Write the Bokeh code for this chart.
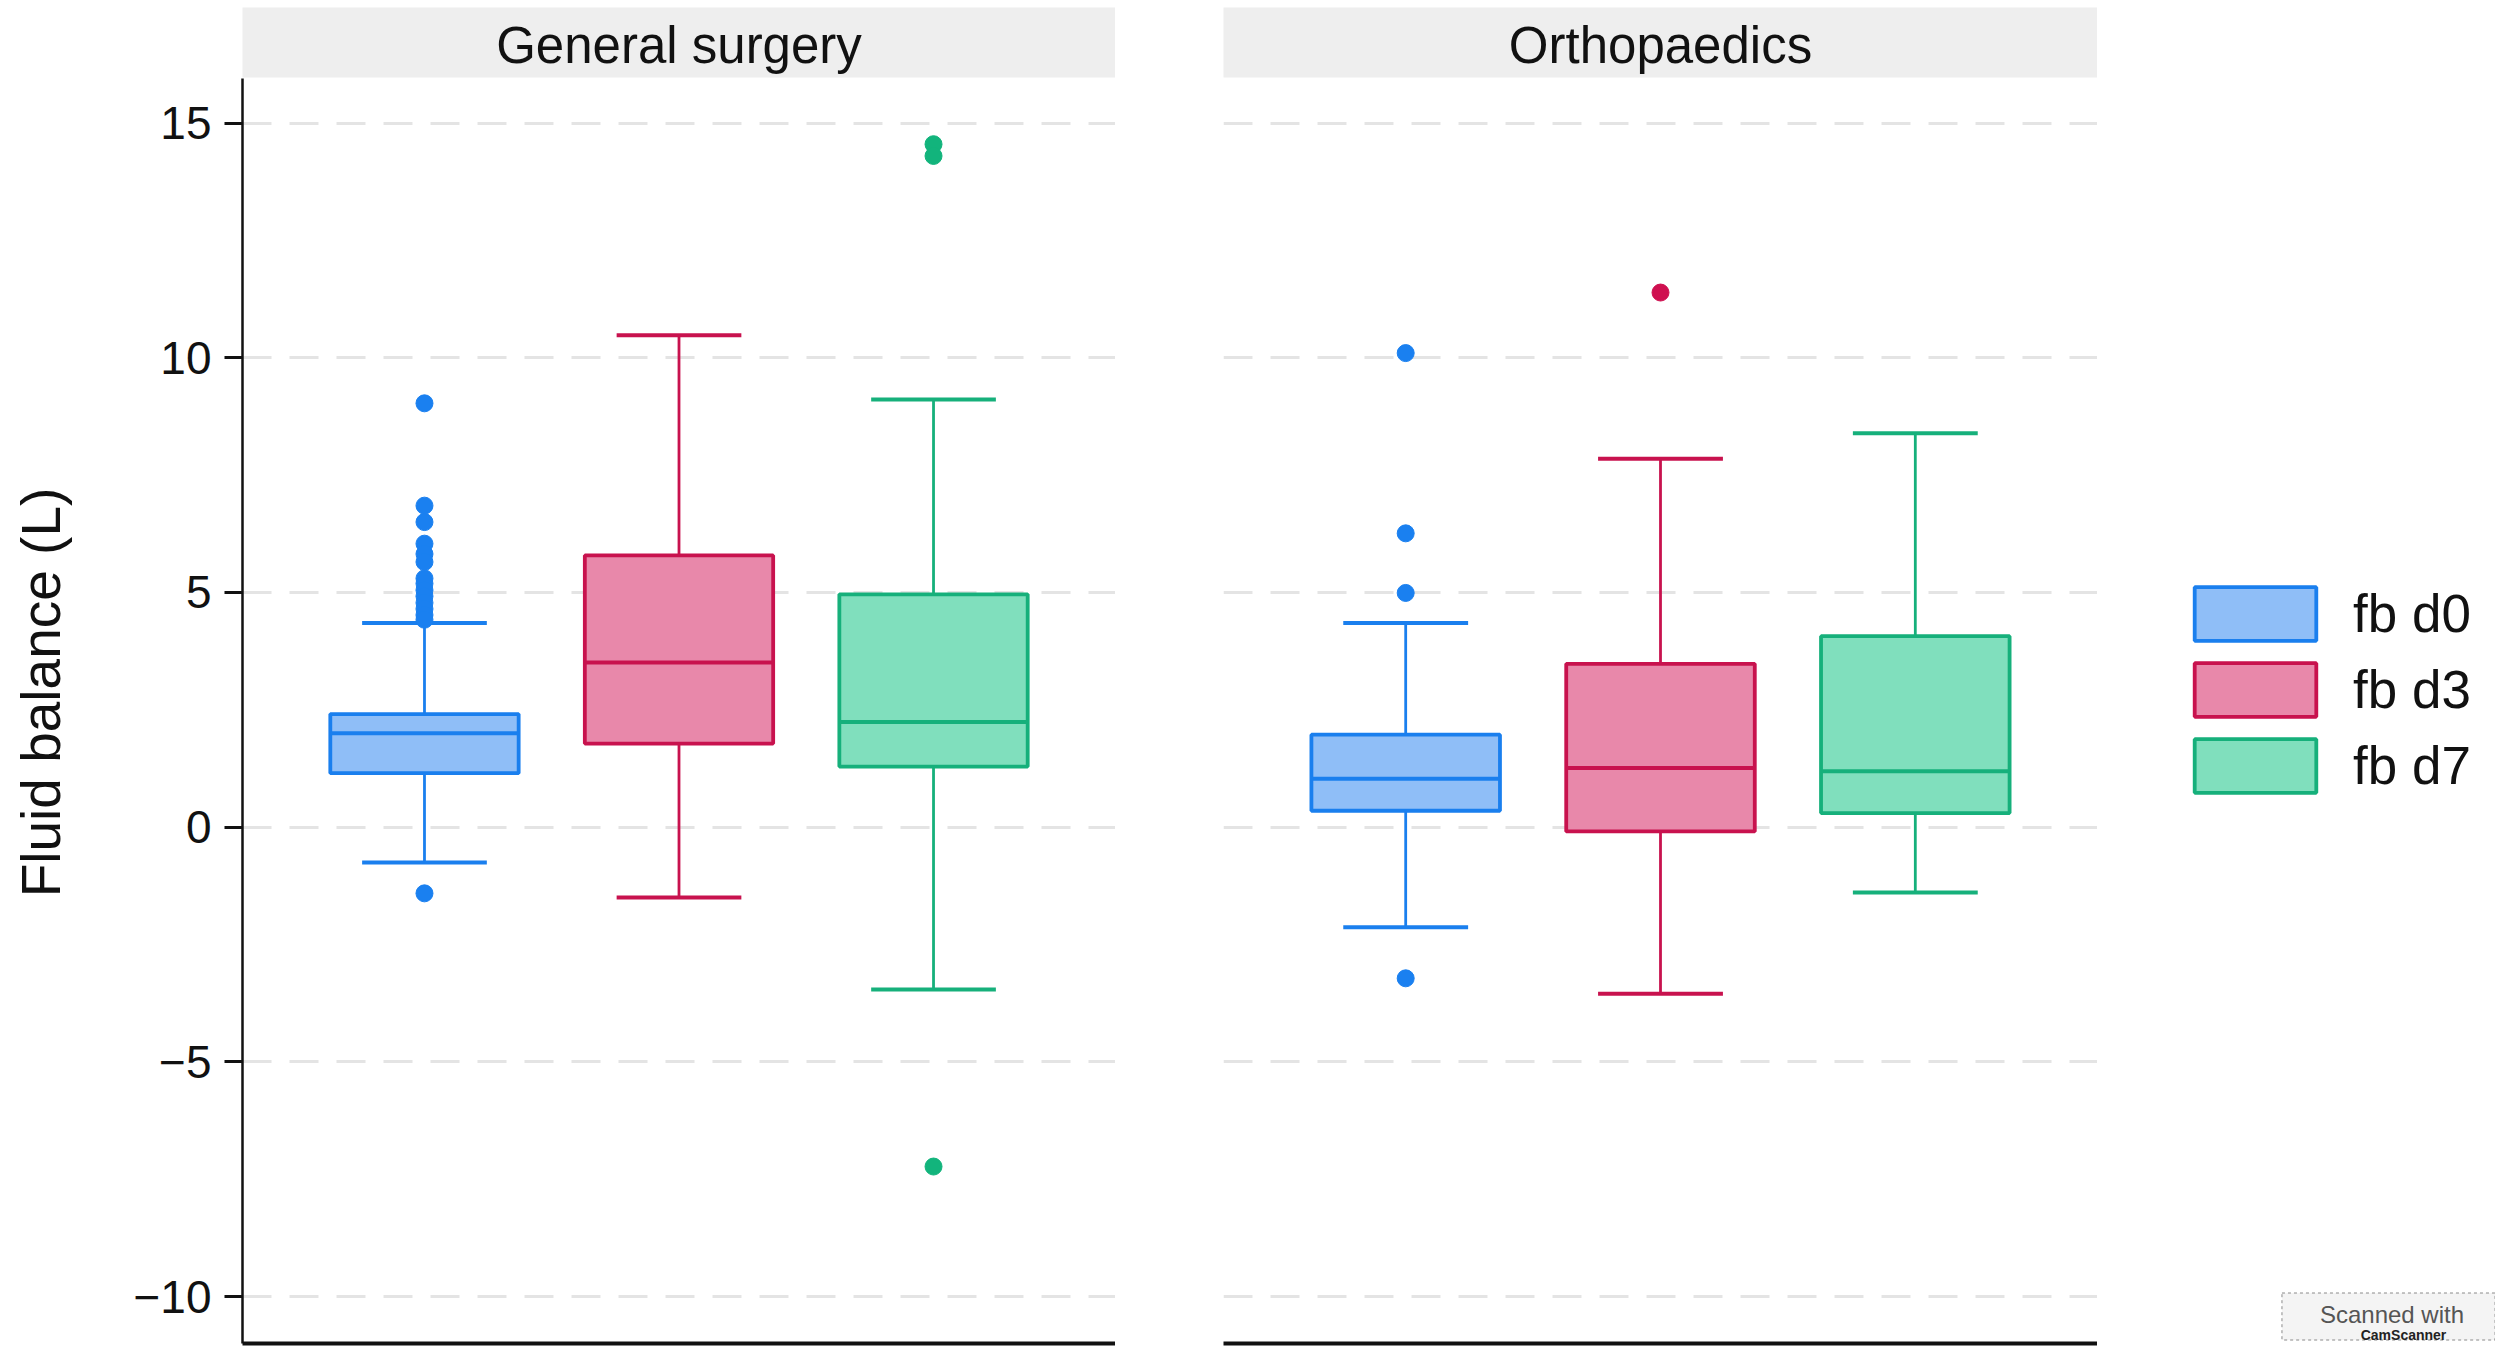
import math
from bokeh.plotting import figure
from bokeh.models import Range1d, Legend, LegendItem, FixedTicker, Grid, Label
from bokeh.layouts import column, row
from bokeh.embed import file_html
from bokeh.resources import INLINE
from bokeh.core.properties import value

FONT = "Liberation Sans"

panels = ["General surgery", "Orthopaedics"]
series = ["fb d0", "fb d3", "fb d7"]
y_ticks = [-10, -5, 0, 5, 10, 15]
y_title = "Fluid balance (L)"

# General surgery: one value per series
gs_lower = [-0.75, -1.50, -3.46]
gs_q1 = [1.15, 1.78, 1.29]
gs_median = [2.00, 3.51, 2.24]
gs_q3 = [2.41, 5.79, 4.96]
gs_upper = [4.35, 10.48, 9.11]
gs_outliers_d0 = [9.03, 6.85, 6.50, 6.04, 5.82, 5.65, 5.30, 5.19, 5.05, 4.92, 4.78, 4.65, 4.52, 4.42, -1.41]
gs_outliers_d3 = []
gs_outliers_d7 = [14.55, 14.30, -7.23]

# Orthopaedics
or_lower = [-2.13, -3.55, -1.39]
or_q1 = [0.35, -0.09, 0.30]
or_median = [1.03, 1.26, 1.19]
or_q3 = [1.97, 3.48, 4.07]
or_upper = [4.35, 7.85, 8.39]
or_outliers_d0 = [10.10, 6.26, 4.99, -3.22]
or_outliers_d3 = [11.39]
or_outliers_d7 = []

line_colors = ["#1a7fee", "#c8124e", "#16b07b"]
fill_colors = ["#8fbef7", "#e888aa", "#80dfbd"]
point_colors = ["#1a80f0", "#cf1050", "#12b47c"]

Y_RANGE = (-11.0, 15.95)
X_RANGE = (0.285, 3.715)
BOX_W = 0.74
CAP_W = 0.49

MAIN_H = 1272
BOTTOM = 7
FRAME_H = MAIN_H - BOTTOM


def strip(title, width, left, right):
    s = figure(width=width, height=78, x_range=Range1d(0, 1), y_range=Range1d(0, 1),
               toolbar_location=None, output_backend="svg",
               x_axis_location=None, y_axis_location=None,
               min_border_left=left, min_border_right=right,
               min_border_top=7, min_border_bottom=1,
               background_fill_color="#eeeeee", border_fill_color="white",
               outline_line_color=None)
    s.grid.visible = False
    s.text(x=[0.5], y=[0.46], text=[title], text_align="center", text_baseline="middle",
           text_font=value(FONT), text_font_size="51px", text_color="#111111")
    return s


def blank(width):
    b = figure(width=width, height=MAIN_H, x_range=Range1d(0, width), y_range=Range1d(0, FRAME_H),
               toolbar_location=None, output_backend="svg",
               x_axis_location=None, y_axis_location=None,
               min_border_left=0, min_border_right=0, min_border_top=0,
               min_border_bottom=BOTTOM,
               background_fill_color="white", border_fill_color="white",
               outline_line_color=None)
    b.grid.visible = False
    return b


def panel(width, left, right, lower, q1, med, q3, upper, outliers, with_yaxis):
    p = figure(width=width, height=MAIN_H, x_range=Range1d(*X_RANGE), y_range=Range1d(*Y_RANGE),
               toolbar_location=None, output_backend="svg",
               y_axis_location="left" if with_yaxis else None,
               min_border_left=left, min_border_right=right,
               min_border_top=0, min_border_bottom=BOTTOM,
               background_fill_color="white", border_fill_color="white",
               outline_line_color=None)
    p.xgrid.visible = False
    p.ygrid.visible = False
    p.add_layout(Grid(dimension=1, ticker=FixedTicker(ticks=y_ticks),
                      grid_line_color="#e4e4e4", grid_line_width=3,
                      grid_line_dash="29 18"))
    xa = p.xaxis[0]
    xa.ticker = FixedTicker(ticks=[])
    xa.axis_line_width = 4
    xa.axis_line_color = "#111111"
    xa.major_tick_out = 0
    xa.major_tick_in = 0
    xa.minor_tick_out = 0
    xa.minor_tick_in = 0
    xa.major_label_standoff = 0
    if with_yaxis:
        ya = p.yaxis[0]
        ya.ticker = FixedTicker(ticks=y_ticks)
        ya.axis_line_width = 2.5
        ya.axis_line_color = "#111111"
        ya.major_tick_out = 18
        ya.major_tick_in = 0
        ya.major_tick_line_width = 3
        ya.major_tick_line_color = "#111111"
        ya.minor_tick_out = 0
        ya.minor_tick_in = 0
        ya.major_label_text_font = FONT
        ya.major_label_text_font_size = "46px"
        ya.major_label_text_color = "#111111"
        ya.major_label_standoff = 13

    xs = [i + 1 for i in range(len(series))]
    for i, x in enumerate(xs):
        lc, fc = line_colors[i], fill_colors[i]
        p.segment(x0=[x, x], y0=[lower[i], q3[i]], x1=[x, x], y1=[q1[i], upper[i]],
                  line_color=lc, line_width=2.8)
        p.segment(x0=[x - CAP_W / 2] * 2, y0=[lower[i], upper[i]],
                  x1=[x + CAP_W / 2] * 2, y1=[lower[i], upper[i]],
                  line_color=lc, line_width=4)
        p.quad(left=[x - BOX_W / 2], right=[x + BOX_W / 2], bottom=[q1[i]], top=[q3[i]],
               fill_color=fc, line_color=lc, line_width=3.8)
        p.segment(x0=[x - BOX_W / 2], y0=[med[i]], x1=[x + BOX_W / 2], y1=[med[i]],
                  line_color=lc, line_width=4)
        if outliers[i]:
            p.scatter(x=[x] * len(outliers[i]), y=outliers[i], size=17,
                      fill_color=point_colors[i], line_color=point_colors[i], line_width=1)
    return p


W0 = 80
W1, L1 = 1115, 242
L2, F2 = 108, 874
W2 = L2 + F2
W3 = 398

s1 = strip(panels[0], W1, L1, 0)
s2 = strip(panels[1], W2, L2, 0)

# y-axis title column
p0 = blank(W0)
p0.text(x=[40], y=[FRAME_H - 614], text=[y_title], angle=math.pi / 2,
        text_align="center", text_baseline="middle",
        text_font=value(FONT), text_font_size="55px", text_color="#111111")

p1 = panel(W1 - W0, L1 - W0, 0, gs_lower, gs_q1, gs_median, gs_q3, gs_upper,
           [gs_outliers_d0, gs_outliers_d3, gs_outliers_d7], True)
p2 = panel(W2, L2, 0, or_lower, or_q1, or_median, or_q3, or_upper,
           [or_outliers_d0, or_outliers_d3, or_outliers_d7], False)

# legend area: key renderers carry the Orthopaedics boxes but are hidden
p3 = blank(W3)
keys = [p3.quad(left=[i + 1 - BOX_W / 2], right=[i + 1 + BOX_W / 2], bottom=[or_q1[i]], top=[or_q3[i]],
                fill_color=fill_colors[i], line_color=line_colors[i], line_width=3.8,
                visible=False) for i in range(3)]
legend = Legend(items=[LegendItem(label=series[i], renderers=[keys[i]]) for i in range(3)],
                location=(82, 544), orientation="vertical",
                glyph_width=152, glyph_height=67, label_height=67, spacing=9,
                label_standoff=22, padding=0, margin=0,
                label_text_font=FONT, label_text_font_size="53px", label_text_color="#111111",
                border_line_color=None, background_fill_alpha=0,
                inactive_fill_alpha=0)
p3.add_layout(legend)

p3.add_layout(Label(x=291, y=27, text="Scanned with", text_align="center",
                    text_baseline="middle", text_font=FONT, text_font_size="24px",
                    text_color="#555555", background_fill_color="#f4f4f4",
                    border_line_color="#8a8a8a", border_line_dash="3 3", border_line_width=1,
                    padding=dict(left=38, right=31, top=8, bottom=12)))
p3.add_layout(Label(x=306, y=1, text="CamScanner", text_align="center",
                    text_baseline="bottom", text_font=FONT, text_font_size="14px",
                    text_font_style="bold", text_color="#222222"))

layout = column(row(s1, s2), row(p0, p1, p2, p3))

open("out.html", "w").write(file_html(layout, INLINE))
